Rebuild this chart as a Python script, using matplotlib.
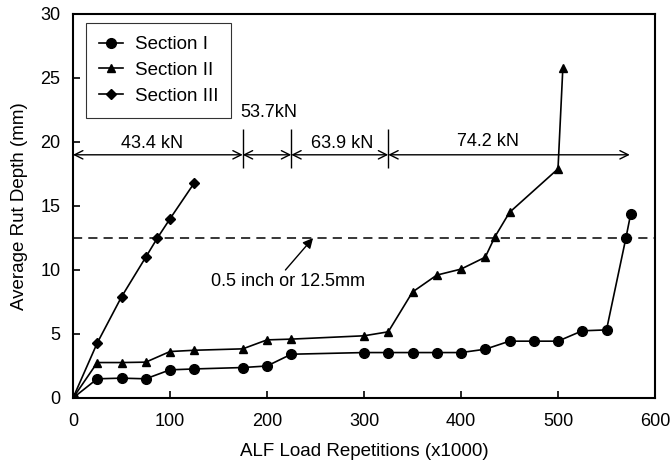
import matplotlib
matplotlib.use("Agg")
import matplotlib.pyplot as plt

plt.rcParams['font.family'] = ['Liberation Sans', 'DejaVu Sans']

# Section I (circles)
x_sec1 = [0, 25, 50, 75, 100, 125, 175, 200, 225, 300, 325, 350, 375, 400, 425, 450, 475, 500, 525, 550, 570, 575]
y_sec1 = [0, 1.5, 1.55, 1.5, 2.2, 2.27, 2.38, 2.5, 3.42, 3.55, 3.55, 3.55, 3.55, 3.55, 3.81, 4.44, 4.44, 4.44, 5.25, 5.32, 12.5, 14.4]

# Section II (triangles)
x_sec2 = [0, 25, 50, 75, 100, 125, 175, 200, 225, 300, 325, 350, 375, 400, 425, 435, 450, 500, 505]
y_sec2 = [0, 2.77, 2.77, 2.8, 3.63, 3.73, 3.84, 4.54, 4.6, 4.86, 5.17, 8.28, 9.6, 10.07, 11.0, 12.6, 14.5, 17.9, 25.8]

# Section III (diamonds)
x_sec3 = [0, 25, 50, 75, 87, 100, 125]
y_sec3 = [0, 4.3, 7.9, 11.0, 12.5, 14.0, 16.8]

# load stages
stage_edges = [0, 175, 225, 325, 574]
stage_labels = ["43.4 kN", "53.7kN", "63.9 kN", "74.2 kN"]
stage_label_x = [82, 202, 277, 428]
stage_label_y = [19.9, 22.3, 19.9, 20.0]
stage_y = 19.0

rut_limit = 12.5

fig = plt.figure(figsize=(6.72, 4.62), dpi=100)
ax = fig.add_axes([73 / 672, 1 - 398 / 462, 582 / 672, 384 / 462])

ax.plot(x_sec1, y_sec1, color='black', lw=1.2, marker='o', ms=7, label='Section I')
ax.plot(x_sec2, y_sec2, color='black', lw=1.2, marker='^', ms=6, label='Section II')
ax.plot(x_sec3, y_sec3, color='black', lw=1.2, marker='D', ms=5.5, label='Section III')

ax.axhline(rut_limit, color='black', lw=1.1, ls=(0, (6, 4)))

# arrows for load stages
for i in range(len(stage_edges) - 1):
    ax.annotate('', xy=(stage_edges[i + 1], stage_y), xytext=(stage_edges[i], stage_y),
                arrowprops=dict(arrowstyle='<->', color='black', lw=1.0,
                                shrinkA=0, shrinkB=0, mutation_scale=15))
for xe in stage_edges[1:-1]:
    ax.vlines(xe, 18.0, 21.0, color='black', lw=1.0)
for lab, lx, ly in zip(stage_labels, stage_label_x, stage_label_y):
    ax.text(lx, ly, lab, ha='center', va='center', fontsize=13)

ax.annotate('', xy=(247.5, 12.5), xytext=(219, 10.0),
            arrowprops=dict(arrowstyle='-|>', color='black', lw=1.0,
                            shrinkA=0, shrinkB=0, mutation_scale=15))
ax.text(222, 9.1, '0.5 inch or 12.5mm', ha='center', va='center', fontsize=13)

ax.set_xlim(0, 600)
ax.set_ylim(0, 30)
ax.set_xticks(range(0, 601, 100))
ax.set_yticks(range(0, 31, 5))
ax.tick_params(direction='in', length=5, width=1.2, labelsize=13)
ax.tick_params(axis='x', pad=11)
ax.tick_params(axis='y', pad=9)
for sp in ax.spines.values():
    sp.set_linewidth(1.5)

ax.set_xlabel('ALF Load Repetitions (x1000)', fontsize=13.5, labelpad=9)
ax.set_ylabel('Average Rut Depth (mm)', fontsize=13.5, labelpad=9)

leg = ax.legend(loc='upper left', bbox_to_anchor=(0.022, 0.977), borderaxespad=0,
                fontsize=13.5, frameon=True, fancybox=False, edgecolor='black',
                handlelength=1.3, handletextpad=0.6, borderpad=0.7, labelspacing=0.46)
leg.get_frame().set_linewidth(0.8)

fig.savefig('out.png', dpi=100)
